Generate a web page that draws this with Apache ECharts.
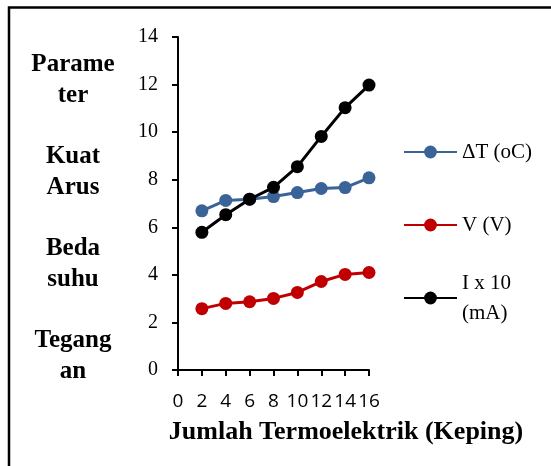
<!DOCTYPE html>
<html>
<head>
<meta charset="utf-8">
<script src="https://cdn.jsdelivr.net/npm/echarts@6/dist/echarts.min.js"></script>
<style>
  html, body { margin: 0; padding: 0; background: #fff; }
  #chart { width: 551px; height: 466px; }
</style>
</head>
<body>
<div id="chart"></div>
<script>
// Number of thermoelectric modules (x values)
const jumlahKeping = [2, 4, 6, 8, 10, 12, 14, 16];
// Temperature difference ΔT (°C)
const bedaSuhu = [6.69, 7.13, 7.18, 7.29, 7.46, 7.63, 7.67, 8.08];
// Voltage V (V)
const tegangan = [2.58, 2.80, 2.87, 3.01, 3.26, 3.72, 4.02, 4.10];
// Current I x 10 (mA)
const kuatArus = [5.79, 6.53, 7.18, 7.68, 8.55, 9.82, 11.03, 11.98];

const seriesNames = ['\u0394T (oC)', 'V (V)', 'I x 10 (mA)'];
const seriesColors = ['#3A6497', '#C00000', '#000000'];
const yLabelLines = ['Parame', 'ter', '', 'Kuat', 'Arus', '', 'Beda', 'suhu', '', 'Tegang', 'an'];
const xTitle = 'Jumlah Termoelektrik (Keping)';

const pairs = (ys) => jumlahKeping.map((x, i) => [x, ys[i]]);
const allValues = [bedaSuhu, tegangan, kuatArus];

const chart = echarts.init(document.getElementById('chart'), null, { renderer: 'canvas' });

const serif = '"Liberation Serif", "Times New Roman", serif';
const legendText = { fontFamily: serif, fontSize: 21, color: '#000', lineHeight: 30 };

// one legend block per series so each entry can sit at its own height
const legendTops = [132, 205, 248];
const legends = seriesNames.map((name, i) => ({
  orient: 'vertical',
  left: 398, top: legendTops[i],
  itemWidth: 53, itemHeight: 16,
  formatter: (n) => n === 'I x 10 (mA)' ? 'I x 10\n(mA)' : n,
  textStyle: legendText,
  data: [i === 2 ? { name, textStyle: { padding: [30, 0, 0, 0] } } : { name }]
}));

chart.setOption({
  animation: false,
  backgroundColor: '#ffffff',
  grid: { left: 178, right: 182, top: 37, bottom: 96, containLabel: false },
  xAxis: {
    type: 'value',
    min: 0, max: 16, interval: 2,
    splitLine: { show: false },
    axisLine: { show: true, onZero: false, lineStyle: { color: '#000', width: 2 } },
    axisTick: { show: true, inside: false, length: 6, lineStyle: { color: '#000', width: 2 } },
    axisLabel: {
      margin: 22, color: '#000',
      fontFamily: '"Open Sans", sans-serif', fontSize: 19,
      hideOverlap: false
    }
  },
  yAxis: {
    type: 'value',
    min: 0, max: 14, interval: 2,
    splitLine: { show: false },
    axisLine: { show: true, lineStyle: { color: '#000', width: 2 } },
    axisTick: { show: true, length: 6, lineStyle: { color: '#000', width: 2 } },
    axisLabel: { margin: 20, color: '#000', fontFamily: serif, fontSize: 20 }
  },
  legend: legends,
  series: allValues.map((vals, i) => ({
    name: seriesNames[i],
    type: 'line',
    data: pairs(vals),
    symbol: 'circle',
    symbolSize: 13,
    lineStyle: { color: seriesColors[i], width: 3 },
    itemStyle: { color: seriesColors[i] },
    z: 2 + i
  })),
  graphic: [
    {
      type: 'polyline',
      shape: { points: [[9, 466], [9, 7.5], [551, 7.5]] },
      style: { stroke: '#000', lineWidth: 2.5, fill: null },
      silent: true
    },
    {
      type: 'text',
      x: 73, y: 49,
      style: {
        text: yLabelLines.join('\n'),
        align: 'center', verticalAlign: 'top',
        fontFamily: serif, fontWeight: 'bold', fontSize: 25,
        lineHeight: 30.7, fill: '#000'
      }
    },
    {
      type: 'text',
      x: 346, y: 432,
      style: {
        text: xTitle,
        align: 'center', verticalAlign: 'middle',
        fontFamily: serif, fontWeight: 'bold', fontSize: 26,
        fill: '#000'
      }
    }
  ]
});
</script>
</body>
</html>
